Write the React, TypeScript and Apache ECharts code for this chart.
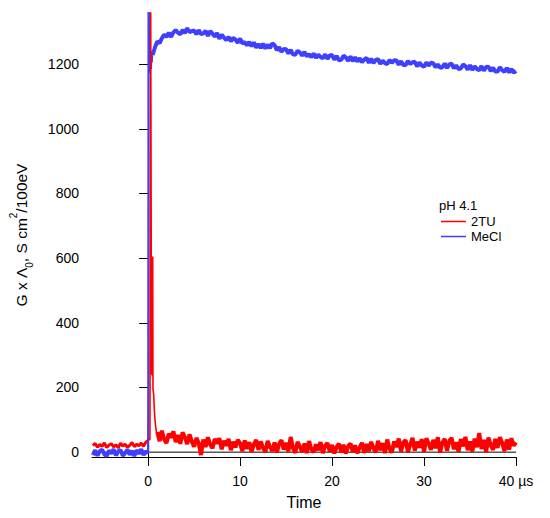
import React, { useEffect, useRef } from "react";
import * as echarts from "echarts";

// ---- data ----
const STEP = 0.25;
const PRE_START = -6.0; // pre-pulse segment, t = -6 .. 0 µs
const RED_POST_START = 1.0; // 2TU decay, t = 1 .. 40 µs
const BLUE_POST_START = 0.5; // MeCl, t = 0.5 .. 40 µs

const redPre = [
  20, 27, 15, 24, 18, 29, 14, 22, 26, 16, 23, 13, 28, 19, 25, 15, 21, 30, 17, 24, 20, 28, 18, 31, 36,
];
const bluePre = [
  -9, 6, -11, 3, 8, -7, -12, 5, -4, 9, -10, 2, 7, -11, -3, 8, -8, 4, -12, 6, -5, 9, -9, 3, -4,
];

const redSpikeT = [0, 0.2, 0.28, 0.33, 0.37, 0.41, 0.44, 0.47, 0.5, 0.53, 0.6, 0.68, 0.76, 0.84, 0.92, 1.0];
const redSpikeV = [36, 40, 1400, 1400, 250, 240, 260, 235, 605, 195, 180, 130, 95, 75, 60, 62];

const blueSpikeT = [0, 0.02, 0.05, 0.1, 0.14, 0.18, 0.24, 0.3, 0.35, 0.4, 0.45, 0.5];
const blueSpikeV = [-4, 200, 1400, 1400, 1250, 1172, 1225, 1185, 1230, 1205, 1240, 1228];

const redPost = [
  62, 34, 66, 39, 28, 57, 45, 64, 31, 53, 26, 61, 46, 25, 55, 33,
  17, 44, 28, -9, 39, 16, 46, 23, 12, 41, 26, 43, 9, 35, 20, 41,
  6, 32, 15, 38, 28, 3, 36, 10, 31, 1, 24, 38, 7, 33, 13, 0,
  35, 16, 4, 30, -1, 26, 37, 8, 29, 2, 47, 12, -2, 32, 17, 1,
  27, -3, 34, 9, 0, 24, 6, 31, -3, 20, 28, 2, 22, -4, 16, 26,
  -1, 23, -4, 18, 27, 1, 21, -3, 14, 29, -2, 25, 3, 32, 12, 0,
  35, 6, 28, -3, 39, 10, -1, 33, 16, 42, 2, 30, 37, 0, 24, 44,
  5, 32, 14, 40, 1, 43, 27, 7, 38, 12, 46, -1, 29, 41, 4, 35,
  44, 9, 31, 1, 40, 18, 47, 6, 33, 2, 42, 15, 59, 10, 38, 0,
  45, 22, 7, 41, 13, 46, 28, 3, 39, 8, 43, 20, 30,
];

const bluePost = [
  1228, 1252,
  1270, 1265, 1280, 1291, 1284, 1297, 1284, 1298, 1305, 1297, 1292, 1306,
  1296, 1311, 1299, 1302, 1304, 1292, 1305, 1293, 1295, 1303, 1287, 1302,
  1294, 1285, 1296, 1278, 1291, 1282, 1274, 1284, 1270, 1281, 1276, 1266,
  1279, 1264, 1268, 1258, 1269, 1255, 1267, 1251, 1262, 1250, 1263, 1248,
  1260, 1249, 1264, 1259, 1243, 1252, 1238, 1247, 1246, 1233, 1244, 1230,
  1229, 1241, 1236, 1226, 1238, 1224, 1231, 1221, 1233, 1219, 1229, 1222,
  1218, 1230, 1216, 1227, 1228, 1214, 1225, 1212, 1213, 1226, 1221, 1210,
  1224, 1209, 1221, 1208, 1218, 1206, 1214, 1219, 1204, 1217, 1203, 1213,
  1215, 1201, 1211, 1203, 1200, 1213, 1204, 1212, 1211, 1198, 1209, 1197,
  1197, 1210, 1200, 1206, 1207, 1193, 1205, 1196, 1192, 1205, 1195, 1204,
  1203, 1190, 1199, 1189, 1190, 1202, 1188, 1199, 1201, 1187, 1196, 1185,
  1186, 1199, 1194, 1183, 1197, 1182, 1193, 1185, 1181, 1194, 1180, 1191,
  1192, 1178, 1189, 1177, 1177, 1190, 1181, 1176, 1188, 1174, 1185, 1173,
  1179,
];

const xTicks = [0, 10, 20, 30, 40];
const yTicks = [0, 200, 400, 600, 800, 1000, 1200];
const seriesNames = ["2TU", "MeCl"];
const legendTitle = "pH 4.1";

function sampled(start: number, values: number[]) {
  return values.map((v, i) => [start + i * STEP, v]);
}
function paired(ts: number[], vs: number[]) {
  return ts.map((t, i) => [t, vs[i]]);
}

const redPreData = sampled(PRE_START, redPre);
const redSpikeData = paired(redSpikeT, redSpikeV);
const redPostData = sampled(RED_POST_START, redPost);
const bluePreData = sampled(PRE_START, bluePre);
const blueSpikeData = paired(blueSpikeT, blueSpikeV);
const bluePostData = sampled(BLUE_POST_START, bluePost);

const FONT = "'Liberation Sans', Arial, Helvetica, sans-serif";
const RED = "#ff0000";
const BLUE = "#3f3fff";

export default function App() {
  const ref = useRef<HTMLDivElement>(null);
  useEffect(() => {
    document.body.style.margin = "0";
    const chart = echarts.init(ref.current!, null, { renderer: "svg" });
    const trace = (name: string, color: string, data: number[][], width: number, z: number) => ({
      name,
      type: "line",
      data,
      symbol: "none",
      showSymbol: false,
      color,
      lineStyle: { color, width },
      z,
    });
    chart.setOption({
      animation: false,
      backgroundColor: "#ffffff",
      textStyle: { fontFamily: FONT },
      grid: { left: 85, right: 34, top: 13, bottom: 61, containLabel: false },
      legend: {
        data: seriesNames,
        orient: "vertical",
        left: 441,
        top: 215,
        padding: 0,
        itemGap: 2,
        itemWidth: 25,
        itemHeight: 1.5,
        icon: "rect",
        textStyle: { fontSize: 13, color: "#000", fontFamily: FONT, lineHeight: 13 },
      },
      graphic: [
        {
          type: "text",
          left: 439,
          top: 199,
          style: { text: legendTitle, fontSize: 13, fill: "#000", fontFamily: FONT },
        },
      ],
      xAxis: {
        type: "value",
        min: -6.1,
        max: 40,
        name: "Time",
        nameLocation: "middle",
        nameGap: 37,
        nameTextStyle: { fontSize: 16, color: "#000", fontFamily: FONT },
        axisLine: { show: true, onZero: false, lineStyle: { color: "#000", width: 1 } },
        axisTick: { show: true, length: 9, customValues: xTicks, lineStyle: { color: "#000" } },
        axisLabel: {
          customValues: xTicks,
          fontSize: 14,
          color: "#000",
          margin: 17,
          fontFamily: FONT,
          formatter: (v: number) => (v === 40 ? "40 µs" : String(v)),
        },
        splitLine: { show: false },
      },
      yAxis: {
        type: "value",
        min: -15,
        max: 1358,
        name: "{a|G x Λ}{sub|0}{a|, S cm}{sup|2}{a|/100eV}",
        nameLocation: "middle",
        nameGap: 58,
        nameTextStyle: {
          color: "#000",
          fontFamily: FONT,
          rich: {
            a: { fontSize: 15.5, lineHeight: 26, verticalAlign: "middle", color: "#000", fontFamily: FONT },
            sub: { fontSize: 10, lineHeight: 18, verticalAlign: "bottom", color: "#000", fontFamily: FONT },
            sup: { fontSize: 10, lineHeight: 8, verticalAlign: "top", color: "#000", fontFamily: FONT },
          },
        },
        axisLine: { show: true, lineStyle: { color: "#000", width: 1 } },
        axisTick: { show: true, length: 9, customValues: yTicks, lineStyle: { color: "#000" } },
        axisLabel: {
          customValues: yTicks,
          fontSize: 14,
          color: "#000",
          margin: 13,
          fontFamily: FONT,
          formatter: (v: number) => String(v),
        },
        splitLine: { show: false },
      },
      series: [
        {
          name: "zero",
          type: "line",
          data: [
            [-6.1, 0],
            [40, 0],
          ],
          symbol: "none",
          silent: true,
          lineStyle: { color: "#000", width: 1 },
          z: 1,
        },
        trace(seriesNames[0], RED, redPreData, 3, 2),
        trace(seriesNames[0], RED, redPostData, 4, 2),
        trace(seriesNames[1], BLUE, bluePreData, 4, 3),
        trace(seriesNames[1], BLUE, blueSpikeData, 2.2, 3),
        trace(seriesNames[1], BLUE, bluePostData, 4, 3),
        trace(seriesNames[0], RED, redSpikeData, 1.6, 4),
      ],
    });
    return () => chart.dispose();
  }, []);
  return <div ref={ref} style={{ width: 550, height: 518 }} />;
}
